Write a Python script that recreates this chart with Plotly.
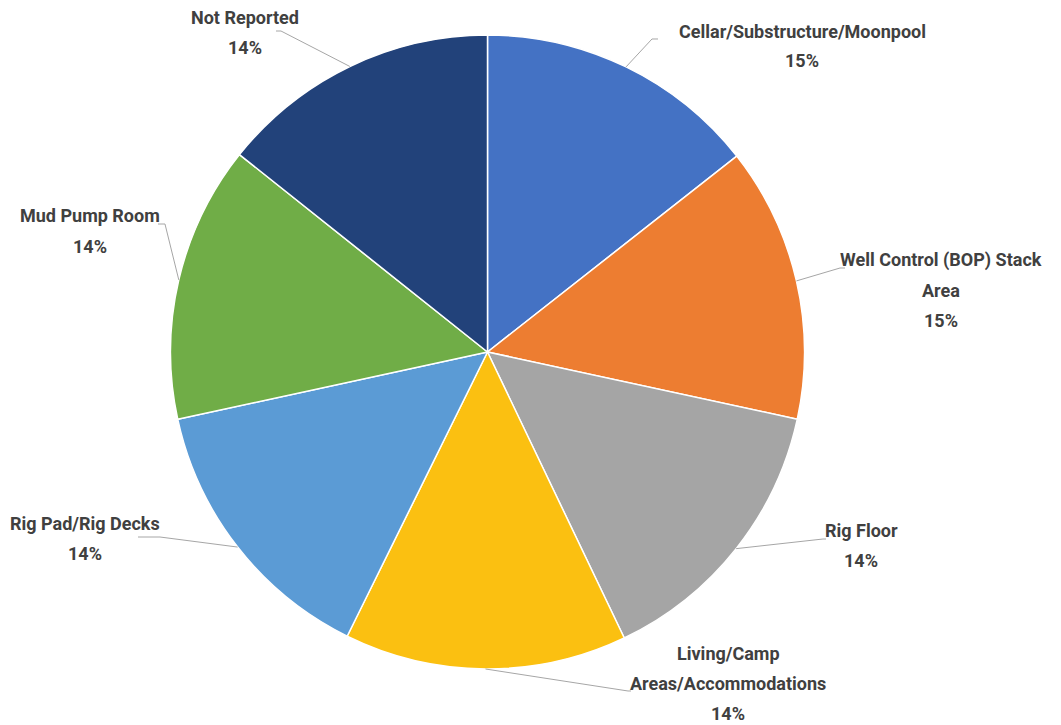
import math
import plotly.graph_objects as go

# ---- data ----
categories = ["Cellar/Substructure/Moonpool", "Well Control (BOP) Stack Area", "Rig Floor",
              "Living/Camp Areas/Accommodations", "Rig Pad/Rig Decks", "Mud Pump Room", "Not Reported"]
label_lines = [["Cellar/Substructure/Moonpool"], ["Well Control (BOP) Stack", "Area"], ["Rig Floor"],
               ["Living/Camp", "Areas/Accommodations"], ["Rig Pad/Rig Decks"], ["Mud Pump Room"], ["Not Reported"]]
values = [14.4, 14.0, 14.5, 14.4, 14.3, 14.1, 14.3]          # slice sizes
pct_labels = ["15%", "15%", "14%", "14%", "14%", "14%", "14%"]  # percentage labels as printed
colors = ["#4472C4", "#ED7D31", "#A5A5A5", "#FBC011", "#5B9BD5", "#70AD47", "#22427A"]

# ---- layout constants (pixels, top-left origin) ----
W, H = 1061, 725
x0, x1, y0, y1 = 170, 805, 35, 669  # pie domain
label_centers = [(802, 46), (941, 290), (861, 545), (728, 683), (85, 538), (90, 231), (245, 32)]
# elbow point of each leader line and its short horizontal stub end
elbows = [((652, 39), (658, 39)), ((840, 268), (845, 268)), ((823, 539), (826, 539)),
          ((628, 691), (631, 691)), ((160, 537), (138, 537)), ((165, 224), (158, 224)),
          ((281, 31), (276, 31))]
LINE_GAP = 30

fig = go.Figure(go.Pie(
    labels=categories, values=values, sort=False, direction="clockwise", rotation=0,
    marker=dict(colors=colors, line=dict(color="white", width=1.5)),
    textinfo="none", showlegend=False,
    domain=dict(x=[x0 / W, x1 / W], y=[1 - y1 / H, 1 - y0 / H]),
))

def px2paper(x, y):
    return x / W, 1 - y / H

cx, cy = (x0 + x1) / 2, (y0 + y1) / 2
r = min(x1 - x0, y1 - y0) / 2
total = sum(values)
cum = 0
font = dict(family="Roboto, Lato, sans-serif", size=18, color="#404040", weight="bold")
for lines, v, pct, (lx, ly), (e1, e2) in zip(label_lines, values, pct_labels, label_centers, elbows):
    mid = (cum + v / 2) / total * 2 * math.pi
    cum += v
    px = cx + r * math.sin(mid)
    py = cy - r * math.cos(mid)
    all_lines = lines + [pct]
    n = len(all_lines)
    for i, t in enumerate(all_lines):
        tx, ty = px2paper(lx, ly + (i - (n - 1) / 2) * LINE_GAP)
        fig.add_annotation(x=tx, y=ty, xref="paper", yref="paper", text=t, showarrow=False,
                           xanchor="center", yanchor="middle", font=font)
    pts = [px2paper(px, py), px2paper(*e1), px2paper(*e2)]
    path = "M " + " L ".join(f"{a:.5f},{b:.5f}" for a, b in pts)
    fig.add_shape(type="path", path=path, xref="paper", yref="paper",
                  line=dict(color="#A6A6A6", width=1))

fig.update_layout(width=W, height=H, margin=dict(l=0, r=0, t=0, b=0),
                  paper_bgcolor="white", plot_bgcolor="white")
fig.write_html("out.html", config={"displayModeBar": False},
               post_script="document.body.style.margin='0';")
